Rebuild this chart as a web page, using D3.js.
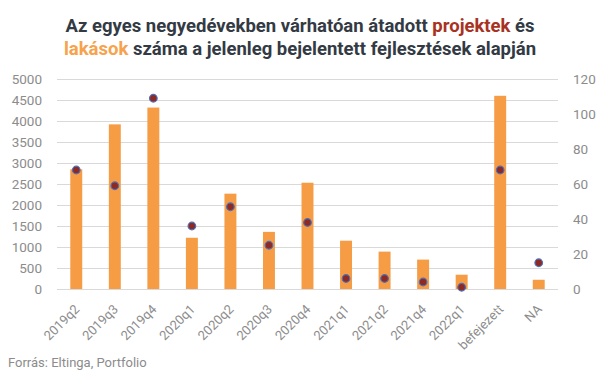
<!DOCTYPE html>
<html><head><meta charset="utf-8">
<script src="https://cdn.jsdelivr.net/npm/d3@7"></script>
<style>body{margin:0;background:#fff;}svg{display:block;font-family:Roboto,sans-serif;}</style>
</head><body><svg id="c" width="607" height="379"></svg>
<script>
const categories = ["2019q2","2019q3","2019q4","2020q1","2020q2","2020q3","2020q4","2021q1","2021q2","2021q4","2022q1","befejezett","NA"];
const lakasok = [2850,3920,4320,1220,2270,1360,2530,1150,890,700,340,4600,220];
const projektek = [68,59,109,36,47,25,38,6,6,4,1,68,15];
const leftTicks = [0,500,1000,1500,2000,2500,3000,3500,4000,4500,5000];
const rightTicks = [0,20,40,60,80,100,120];

const svg = d3.select("#c");
const m = {l:57, r:558, t:79, b:289};
const x = d3.scaleBand().domain(categories).range([m.l, m.r]).paddingInner(0.69).paddingOuter(0.345);
const yL = d3.scaleLinear().domain([0,5000]).range([m.b, m.t]);
const yR = d3.scaleLinear().domain([0,120]).range([m.b, m.t]);

// gridlines
svg.append("g").selectAll("line").data(leftTicks).join("line")
  .attr("x1", m.l).attr("x2", m.r)
  .attr("y1", d=>yL(d)+0.5).attr("y2", d=>yL(d)+0.5)
  .attr("stroke", "#d9d9d9").attr("stroke-width", 1);

// left axis
const axL = svg.append("g").attr("transform", `translate(${m.l-15},0)`)
  .call(d3.axisLeft(yL).tickValues(leftTicks).tickFormat(d3.format("d")).tickSize(0).tickPadding(0));
axL.select(".domain").remove();
axL.selectAll("text").attr("fill","#8c8c8c").style("font-size","13.5px").style("font-family","Roboto");

// right axis
const axR = svg.append("g").attr("transform", `translate(${m.r+15},0)`)
  .call(d3.axisRight(yR).tickValues(rightTicks).tickFormat(d3.format("d")).tickSize(0).tickPadding(0));
axR.select(".domain").remove();
axR.selectAll("text").attr("fill","#8c8c8c").style("font-size","13.5px").style("font-family","Roboto");

// bars
svg.append("g").selectAll("rect").data(categories).join("rect")
  .attr("x", (d)=>x(d)).attr("width", x.bandwidth())
  .attr("y", (d,i)=>yL(lakasok[i])).attr("height", (d,i)=>yL(0)-yL(lakasok[i]))
  .attr("fill", "#f59c45");

// points
svg.append("g").selectAll("circle").data(categories).join("circle")
  .attr("cx", d=>x(d)+x.bandwidth()/2).attr("cy", (d,i)=>yR(projektek[i]))
  .attr("r", 3.8).attr("fill", "#8e2a22").attr("stroke", "#4a70c0").attr("stroke-width", 1.2);

// x labels
const axX = svg.append("g").attr("transform", `translate(0,${m.b})`)
  .call(d3.axisBottom(x).tickSize(0).tickPadding(0));
axX.select(".domain").remove();
axX.selectAll("text")
  .attr("fill","#8c8c8c").style("font-size","13px").style("font-family","Roboto")
  .attr("text-anchor","end").attr("dy","0").attr("y",0)
  .attr("transform","translate(4,21) rotate(-45)");

// title
const t = svg.append("text").attr("text-anchor","middle").attr("x", 300)
  .style("font-size","18.5px").style("font-weight","bold").style("font-family","Roboto").attr("fill","#333a44");
t.append("tspan").attr("x",300).attr("y",32).text("Az egyes negyedévekben várhatóan átadott ");
t.append("tspan").attr("fill","#a8321f").text("projektek");
t.append("tspan").text(" és");
t.append("tspan").attr("x",300).attr("y",55).attr("fill","#f7a24c").text("lakások");
t.append("tspan").text(" száma a jelenleg bejelentett fejlesztések alapján");

svg.append("text").attr("x",8).attr("y",367).attr("fill","#8c8c8c")
  .style("font-size","13px").style("font-family","Roboto").text("Forrás: Eltinga, Portfolio");
</script></body></html>
